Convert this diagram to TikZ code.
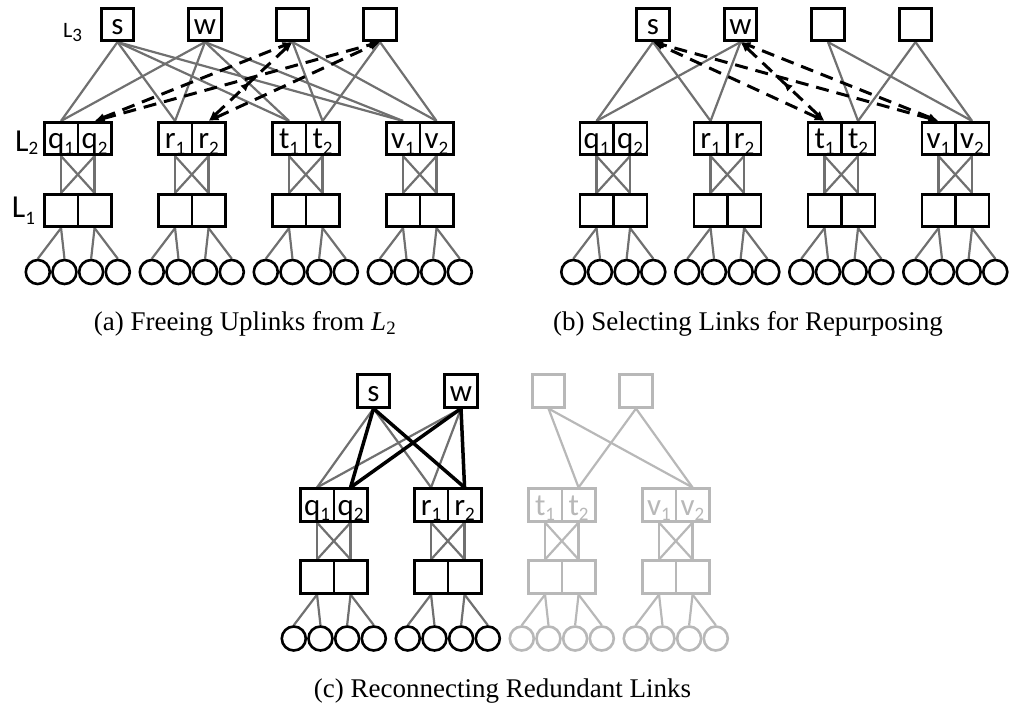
\documentclass[tikz,border=0pt]{standalone}
\usepackage{fontspec}
\setmainfont{Liberation Serif}
\newfontfamily\calfont{Carlito}
\usetikzlibrary{arrows.meta,backgrounds,decorations.markings}
\definecolor{linkgray}{RGB}{112,112,112}
\definecolor{fadegray}{RGB}{184,184,184}
% lowered, smaller index digit
\newcommand\subidx[2][5.5pt]{\raisebox{-#1}{\fontsize{19}{19}\selectfont #2}}
\tikzset{
  sw/.style={draw, line width=2.6pt, fill=white, inner sep=0pt,
    font=\calfont\fontsize{31}{31}\selectfont, text height=22pt, text depth=2pt},
  core/.style={sw, minimum width=32.5pt, minimum height=32.5pt},
  agg/.style={sw, minimum width=33.5pt, minimum height=32.5pt},
  host/.style={circle, draw, line width=2.6pt, fill=white, inner sep=0pt, minimum size=24pt},
  link/.style={line width=2.2pt, linkgray},
  fadelink/.style={line width=2.2pt, fadegray},
  hot/.style={line width=3.5pt, black},
  tipx/.tip={Latex[length=10pt,width=8pt]},
  freed/.style={line width=3pt, black, dash pattern=on 13pt off 8pt, tipx-tipx},
  midarrow/.style={postaction={decorate, decoration={markings,
    mark=at position 0.5 with {\arrow{tipx}}}}},
  layer/.style={inner sep=0pt, anchor=base west},
  caption/.style={anchor=base, inner sep=0pt, font=\fontsize{27}{31}\selectfont},
}
% one pod: #1 panel prefix, #2 letter, #3 centre x, #4 frame colour, #5 link style
\newcommand\pod[5]{%
  \node[agg, draw=#4, text=#4] (#1#21) at (#3-16.75,138.5) {#2\subidx{1}};
  \node[agg, draw=#4, text=#4] (#1#22) at (#3+16.75,138.5) {#2\subidx{2}};
  \node[agg, draw=#4] (#1#2e1) at (#3-16.75,210.5) {};
  \node[agg, draw=#4] (#1#2e2) at (#3+16.75,210.5) {};
  \node[host, draw=#4] (#1#2h1) at (#3-40,272) {};
  \node[host, draw=#4] (#1#2h2) at (#3-13.33,272) {};
  \node[host, draw=#4] (#1#2h3) at (#3+13.33,272) {};
  \node[host, draw=#4] (#1#2h4) at (#3+40,272) {};
  \begin{scope}[on background layer]
    \draw[#5] (#1#21.south) -- (#1#2e1.north);
    \draw[#5] (#1#21.south) -- (#1#2e2.north);
    \draw[#5] (#1#22.south) -- (#1#2e1.north);
    \draw[#5] (#1#22.south) -- (#1#2e2.north);
    \draw[#5] (#1#2e1.south) -- (#1#2h1.north);
    \draw[#5] (#1#2e1.south) -- (#1#2h2.north);
    \draw[#5] (#1#2e2.south) -- (#1#2h3.north);
    \draw[#5] (#1#2e2.south) -- (#1#2h4.north);
  \end{scope}}
% the four L3 switches: #1 prefix, #2 colour of s and w, #3 colour of the others
\newcommand\cores[3]{%
  \node[core, draw=#2, text=#2] (#1s) at (117.5,24.5) {s};
  \node[core, draw=#2, text=#2] (#1w) at (205,24.5) {w};
  \node[core, draw=#3] (#1c3) at (292.5,24.5) {};
  \node[core, draw=#3] (#1c4) at (380,24.5) {};}

\begin{document}
\begin{tikzpicture}[x=1pt, y=-1pt]
\useasboundingbox (0,0) rectangle (1010,710);

% ---------- (a) ----------
\cores{a-}{black}{black}
\pod{a-}{q}{77.8}{black}{link}
\pod{a-}{r}{191.8}{black}{link}
\pod{a-}{t}{305.8}{black}{link}
\pod{a-}{v}{419.8}{black}{link}
\begin{scope}[on background layer]
  \foreach \c in {s,w} \foreach \p in {q,r,t,v}
    \draw[link] (a-\c.south) -- (a-\p1.north);
  \foreach \c in {c3,c4} \foreach \p in {t,v}
    \draw[link] (a-\c.south) -- (a-\p2.north);
\end{scope}
\draw[freed] (a-q2.north) -- (a-c3.south);
\draw[freed] (a-q2.north) -- (a-c4.south);
\draw[freed, midarrow] (a-r2.north) -- (a-c3.south);
\draw[freed] (a-r2.north) -- (a-c4.south);
\node[layer, font=\calfont\fontsize{22}{22}\selectfont] (a-l3) at (63,37) {L\subidx[4pt]{3}};
\node[layer, font=\calfont\fontsize{32}{32}\selectfont] (a-l2) at (15,151.5) {L\subidx[3pt]{2}};
\node[layer, font=\calfont\fontsize{32}{32}\selectfont] (a-l1) at (11.7,217) {L\subidx[7pt]{1}};
\node[caption] (a-cap) at (245,330.5) {(a) Freeing Uplinks from \textit{L}\textsubscript{2}};

% ---------- (b) ----------
\begin{scope}[shift={(535.5,0)}]
\cores{b-}{black}{black}
\pod{b-}{q}{77.8}{black}{link}
\pod{b-}{r}{191.8}{black}{link}
\pod{b-}{t}{305.8}{black}{link}
\pod{b-}{v}{419.8}{black}{link}
\begin{scope}[on background layer]
  \foreach \c in {s,w} \foreach \p in {q,r}
    \draw[link] (b-\c.south) -- (b-\p1.north);
  \foreach \c in {c3,c4} \foreach \p in {t,v}
    \draw[link] (b-\c.south) -- (b-\p2.north);
\end{scope}
\draw[freed] (b-t1.north) -- (b-s.south);
\draw[freed] (b-v1.north) -- (b-s.south);
\draw[freed, midarrow] (b-t1.north) -- (b-w.south);
\draw[freed] (b-v1.north) -- (b-w.south);
\end{scope}
\node[caption] (b-cap) at (748,330.5) {(b) Selecting Links for Repurposing};

% ---------- (c) ----------
\begin{scope}[shift={(256,366.5)}]
\cores{c-}{black}{fadegray}
\pod{c-}{q}{77.8}{black}{link}
\pod{c-}{r}{191.8}{black}{link}
\pod{c-}{t}{305.8}{fadegray}{fadelink}
\pod{c-}{v}{419.8}{fadegray}{fadelink}
\begin{scope}[on background layer]
  \foreach \c in {s,w} \foreach \p in {q,r}
    \draw[link] (c-\c.south) -- (c-\p1.north);
  \foreach \c in {c3,c4} \foreach \p in {t,v}
    \draw[fadelink] (c-\c.south) -- (c-\p2.north);
  \foreach \c in {s,w} \foreach \p in {q,r}
    \draw[hot] (c-\c.south) -- (c-\p2.north);
\end{scope}
\end{scope}
\node[caption] (c-cap) at (502.5,697) {(c) Reconnecting Redundant Links};
\end{tikzpicture}
\end{document}
